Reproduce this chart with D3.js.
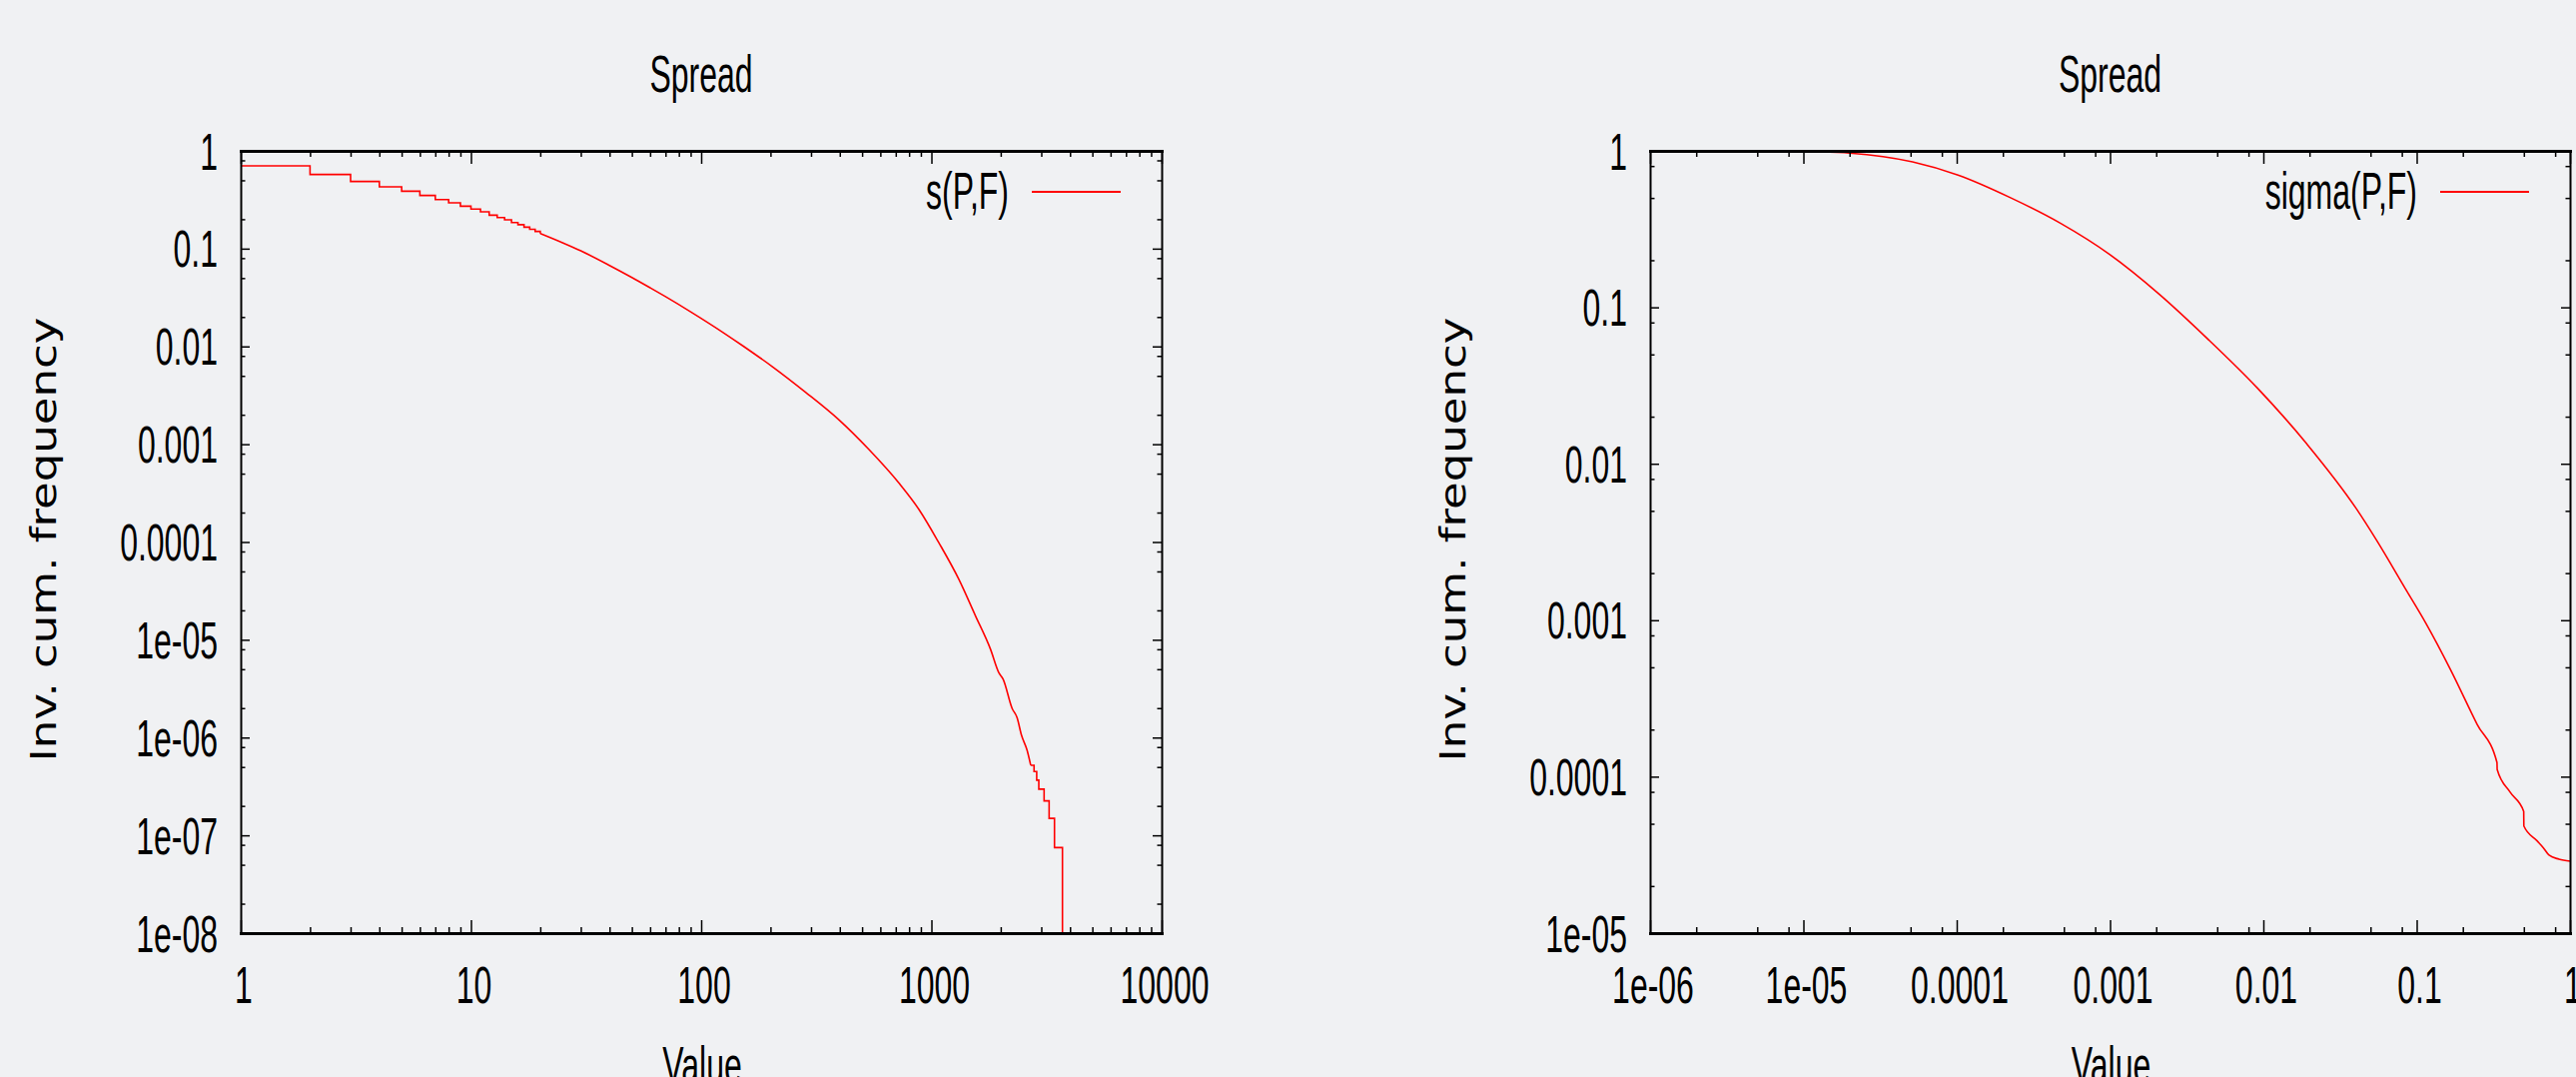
<!DOCTYPE html>
<html lang="en">
<head>
<meta charset="utf-8">
<title>Spread</title>
<script src="https://cdn.jsdelivr.net/npm/d3@7"></script>
<style>
  body { margin: 0; background: #f0f1f3; }
  svg { display: block; }
  text { font-family: "Liberation Sans", Arial, sans-serif; fill: #000; }
</style>
</head>
<body>
<script>
// ---- left panel: s(P,F), integer values, steps at the head and the tail
var sHeadValues = [1, 2, 3, 4, 5, 6, 7, 8, 9, 10, 11, 12, 13, 14, 15, 16, 17, 18, 19, 20];
var sHeadFreq   = [0.703, 0.573, 0.486, 0.429, 0.387, 0.350, 0.318, 0.294, 0.272, 0.254,
                   0.238, 0.220, 0.208, 0.197, 0.185, 0.176, 0.166, 0.158, 0.150, 0.143];

var sBodyValues = [20, 25, 30, 40, 50, 60, 70, 90, 125, 153, 204, 284, 394, 536, 723, 883,
                   1078, 1316, 1555, 1806, 1963, 2049, 2243, 2355, 2461, 2604, 2700];
var sBodyFreq   = [0.143, 0.115, 0.095, 0.0673, 0.0507, 0.0398, 0.0323, 0.0226, 0.0138, 0.0100,
                   0.0062, 0.0034, 0.0018, 8.8e-4, 4.0e-4, 2.15e-4, 9.8e-5, 4.15e-5, 1.75e-5,
                   8.0e-6, 4.6e-6, 3.95e-6, 1.98e-6, 1.6e-6, 1.06e-6, 7.4e-7, 5.2e-7];

var sTailValues = [2700, 2791, 2866, 2927, 3086, 3245, 3424, 3708];
var sTailFreq   = [5.2e-7, 4.5e-7, 3.67e-7, 2.97e-7, 2.25e-7, 1.49e-7, 7.5e-8, 1e-8];

// ---- right panel: sigma(P,F)
var sigmaValues = [1.3e-5, 2.0e-5, 5.15e-5, 1.02e-4, 2.26e-4, 4.74e-4, 9.93e-4, 2.08e-3, 4.36e-3,
                   9.14e-3, 0.0192, 0.0402, 0.0547, 0.0841, 0.1146, 0.166, 0.248, 0.334, 0.335,
                   0.408, 0.499, 0.5, 0.61, 0.669, 0.73, 0.847, 1.0];
var sigmaFreq   = [0.985, 0.968, 0.85, 0.70, 0.50, 0.345, 0.218, 0.122, 0.0625,
                   0.0305, 0.0134, 0.0052, 0.00325, 0.0016, 9.6e-4, 4.85e-4, 2.16e-4, 1.23e-4, 1.11e-4,
                   7.93e-5, 6.0e-5, 4.84e-5, 3.89e-5, 3.52e-5, 3.15e-5, 2.97e-5, 2.88e-5];

// ---- tick labels
var leftXTicks  = [1, 10, 100, 1000, 10000];
var leftXLabels = ["1", "10", "100", "1000", "10000"];
var leftYTicks  = [1, 0.1, 0.01, 0.001, 0.0001, 1e-5, 1e-6, 1e-7, 1e-8];
var leftYLabels = ["1", "0.1", "0.01", "0.001", "0.0001", "1e-05", "1e-06", "1e-07", "1e-08"];
var rightXTicks  = [1e-6, 1e-5, 1e-4, 1e-3, 0.01, 0.1, 1];
var rightXLabels = ["1e-06", "1e-05", "0.0001", "0.001", "0.01", "0.1", "1"];
var rightYTicks  = [1, 0.1, 0.01, 0.001, 0.0001, 1e-5];
var rightYLabels = ["1", "0.1", "0.01", "0.001", "0.0001", "1e-05"];

var W = 2579, H = 1078;
var SY = 1.645; // picture is stretched vertically

var svg = d3.select("body").append("svg")
    .attr("width", W)
    .attr("height", H);

svg.append("rect").attr("width", W).attr("height", H).attr("fill", "#f0f1f3");

function label(g, txt, x, y, anchor) {
    g.append("text")
        .attr("transform", "translate(" + x + "," + y + ") scale(1," + SY + ")")
        .attr("text-anchor", anchor)
        .style("font-size", "32px")
        .text(txt);
}

function minors(ticks, mult) {
    var out = [];
    ticks.forEach(function(t) {
        mult.forEach(function(m) { out.push(t * m); });
    });
    return out;
}

function panel(cfg) {
    var g = svg.append("g");
    var x = d3.scaleLog().domain(cfg.xDomain).range([cfg.x0, cfg.x1]);
    var y = d3.scaleLog().domain(cfg.yDomain).range([cfg.y1, cfg.y0]);

    var xMin = minors(cfg.xTicks.slice(0, -1), cfg.xMult);
    var yMin = minors(cfg.yTicks.slice(1), cfg.yMult);

    // curves
    cfg.series.forEach(function(s) {
        var line = d3.line()
            .x(function(d) { return x(d[0]); })
            .y(function(d) { return y(d[1]); })
            .curve(s.step ? d3.curveStepAfter : d3.curveMonotoneX);
        g.append("path")
            .attr("d", line(d3.zip(s.values, s.freq)))
            .attr("fill", "none")
            .attr("stroke", "#ff0000")
            .attr("stroke-width", 1.6);
    });

    // axes: ticks point inward on all four sides
    function axis(gen, scale, vals, size, tx, ty, domainW) {
        var a = g.append("g")
            .attr("transform", "translate(" + tx + "," + ty + ")")
            .call(gen(scale).tickValues(vals).tickSize(-size).tickSizeOuter(0).tickFormat(""));
        a.selectAll(".tick line").attr("stroke", "#000").attr("stroke-width", 1.5);
        if (domainW) {
            a.select(".domain").attr("stroke", "#000").attr("stroke-width", domainW)
                .attr("stroke-linecap", "square");
        } else {
            a.select(".domain").remove();
        }
    }
    axis(d3.axisBottom, x, xMin, 6, 0, cfg.y1, 0);
    axis(d3.axisTop, x, xMin, 6, 0, cfg.y0, 0);
    axis(d3.axisLeft, y, yMin, 4.5, cfg.x0, 0, 0);
    axis(d3.axisRight, y, yMin, 4.5, cfg.x1, 0, 0);
    axis(d3.axisBottom, x, cfg.xTicks, 13, 0, cfg.y1, 3);
    axis(d3.axisTop, x, cfg.xTicks, 13, 0, cfg.y0, 3);
    axis(d3.axisLeft, y, cfg.yTicks, 9, cfg.x0, 0, 2);
    axis(d3.axisRight, y, cfg.yTicks, 9, cfg.x1, 0, 2);

    // tick labels
    cfg.xTicks.forEach(function(t, i) {
        label(g, cfg.xLabels[i], x(t) + 3, 1004, "middle");
    });
    cfg.yTicks.forEach(function(t, i) {
        label(g, cfg.yLabels[i], cfg.x0 - 23, y(t) + 18.5, "end");
    });

    var cx = (cfg.x0 + cfg.x1) / 2;
    label(g, "Spread", cx, 91.5, "middle");
    label(g, "Value", cx + 1, 1084, "middle");

    g.append("text")
        .attr("transform", "translate(" + (cfg.x0 - 185.5) + ",540) rotate(-90) scale(1.25,1)")
        .attr("text-anchor", "middle")
        .style("font-family", "'DejaVu Sans', sans-serif")
        .style("font-size", "36px")
        .text("Inv. cum. frequency");

    // legend
    label(g, cfg.legend, cfg.x1 - 153, 209, "end");
    g.append("line")
        .attr("x1", cfg.x1 - 130).attr("x2", cfg.x1 - 41)
        .attr("y1", cfg.y0 + 41).attr("y2", cfg.y0 + 41)
        .attr("stroke", "#ff0000")
        .attr("stroke-width", 1.8);
}

panel({
    x0: 241, x1: 1163, y0: 151, y1: 934,
    xDomain: [1, 10000], yDomain: [1e-8, 1],
    xTicks: leftXTicks, xLabels: leftXLabels,
    yTicks: leftYTicks, yLabels: leftYLabels,
    xMult: [2, 3, 4, 5, 6, 7, 8, 9], yMult: [2, 5, 8],
    legend: "s(P,F)",
    series: [
        { values: sHeadValues, freq: sHeadFreq, step: true },
        { values: sBodyValues, freq: sBodyFreq, step: false },
        { values: sTailValues, freq: sTailFreq, step: true }
    ]
});

panel({
    x0: 1652, x1: 2573, y0: 151, y1: 934,
    xDomain: [1e-6, 1], yDomain: [1e-5, 1],
    xTicks: rightXTicks, xLabels: rightXLabels,
    yTicks: rightYTicks, yLabels: rightYLabels,
    xMult: [2, 5, 8], yMult: [2, 5, 8],
    legend: "sigma(P,F)",
    series: [
        { values: sigmaValues, freq: sigmaFreq, step: false }
    ]
});
</script>
</body>
</html>
